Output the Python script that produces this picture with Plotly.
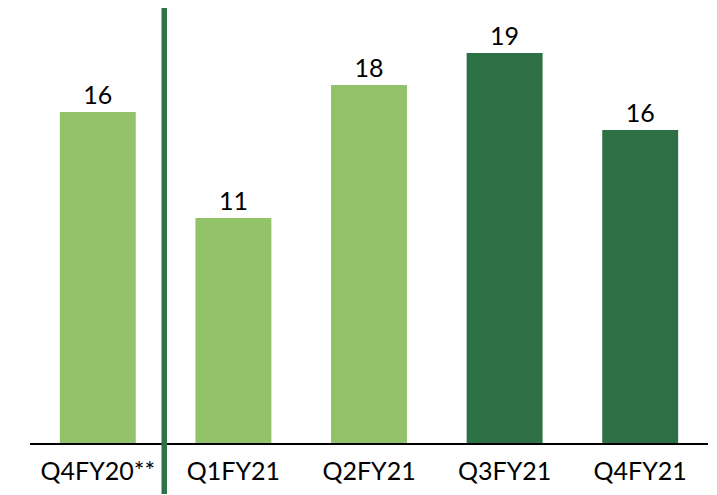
import plotly.graph_objects as go

categories = ["Q4FY20**", "Q1FY21", "Q2FY21", "Q3FY21", "Q4FY21"]
values = [16.45, 11.18, 17.79, 19.38, 15.56]
labels = ["16", "11", "18", "19", "16"]
bar_colors = ["#92C36B", "#92C36B", "#92C36B", "#2E7045", "#2E7045"]

fig = go.Figure()
fig.add_trace(go.Bar(
    x=categories, y=values,
    marker=dict(color=bar_colors, line=dict(width=0)),
    text=labels, textposition="outside", cliponaxis=False,
    textfont=dict(family="Lato", size=25, color="#000000"),
    hoverinfo="skip",
))

fig.add_shape(type="line", xref="x", yref="paper",
              x0=0.49, x1=0.49, y0=-0.118, y1=1.01,
              line=dict(color="#2E7347", width=5.5), layer="above")

fig.update_layout(
    width=717, height=495,
    margin=dict(l=22, r=17, t=2, b=60),
    paper_bgcolor="white", plot_bgcolor="white",
    bargap=0.44, showlegend=False,
    font=dict(family="Lato", color="#000000"),
    xaxis=dict(showline=True, linecolor="#000000", linewidth=2,
               showgrid=False, zeroline=False, ticks="",
               ticklabelstandoff=5,
               tickfont=dict(family="Lato", size=25, color="#000000"),
               range=[-0.5, 4.5]),
    yaxis=dict(visible=False, range=[0, 21.52], showgrid=False, zeroline=False),
)

fig.write_html("out.html")
